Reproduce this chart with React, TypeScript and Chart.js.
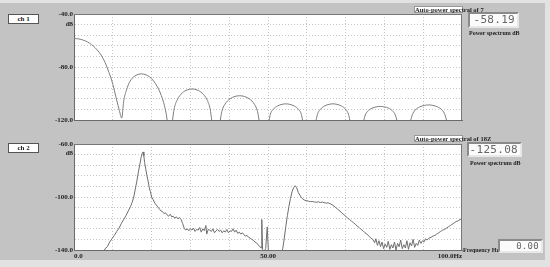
import React, { useEffect, useRef } from "react";
import { Chart, registerables } from "chart.js";
Chart.register(...registerables);

// ---- data (frequency Hz, power dB) ----
const ch1Spectrum: [number, number][] = [
  [0, -58.5], [1, -58.7], [2, -59.3], [3, -60.4], [4, -62], [5, -64.2], [6, -67.2], [7, -71], [8, -76.5],
  [9, -84], [10, -93], [11, -105], [11.7, -113], [12.3, -118.6],
  [12.8, -106], [13.5, -97.5], [14.5, -90.5], [15.5, -87.2], [16.5, -85.6], [17.4, -85.2], [18.5, -85.8],
  [19.5, -87.5], [20.5, -90.5], [21.5, -95], [22.5, -101.5], [23.3, -109], [23.8, -116], [24, -120], [24.7, -135],
  [25.4, -120], [25.8, -111.8], [26.6, -104.8], [27.9, -99.6], [29.2, -97.3], [30.45, -96.6], [31.7, -97.3],
  [33, -99.6], [34.3, -104.8], [35.1, -111.8], [35.5, -120], [36.6, -135],
  [37.7, -120], [38.1, -113.6], [38.9, -108.1], [40.2, -104.1], [41.5, -102.2], [42.7, -101.7], [43.9, -102.2],
  [45.2, -104.1], [46.5, -108.1], [47.3, -113.6], [47.7, -120], [49, -135],
  [50.3, -120], [50.6, -115.7], [51.3, -112.1], [52.45, -109.4], [53.6, -108.2], [54.6, -107.8], [55.6, -108.2],
  [56.75, -109.4], [57.9, -112.1], [58.6, -115.7], [58.9, -120], [60.6, -135],
  [62.4, -120], [62.75, -115.7], [63.45, -112.1], [64.6, -109.4], [65.7, -108.2], [66.75, -107.8], [67.8, -108.2],
  [68.9, -109.4], [70.05, -112.1], [70.75, -115.7], [71.1, -120], [73, -135],
  [74.7, -120], [75.05, -116.4], [75.7, -113.4], [76.8, -111.1], [77.9, -110.1], [78.95, -109.8], [80, -110.1],
  [81.1, -111.1], [82.2, -113.4], [82.85, -116.4], [83.2, -120], [85, -135],
  [86.8, -120], [87.2, -116], [87.9, -112.6], [89.1, -110.1], [90.3, -109], [91.4, -108.6], [92.5, -109],
  [93.7, -110.1], [94.9, -112.6], [95.6, -116], [96, -120], [98.6, -140], [100, -128],
];

const ch2Spectrum: [number, number][] = [
  [7.5, -143], [8, -139], [8.6, -137.5], [9.2, -134], [9.8, -131.5], [10.4, -129], [11, -126], [11.6, -123.5],
  [12.2, -120], [12.8, -117], [13.4, -114], [14, -110.5], [14.6, -107], [15, -104], [15.4, -100], [15.8, -94],
  [16.2, -88], [16.6, -81], [17, -75], [17.3, -70], [17.6, -67], [17.8, -66], [18, -69], [18.2, -74], [18.5, -79],
  [18.8, -84], [19.1, -88], [19.4, -93], [19.7, -96], [20, -100], [20.4, -102], [20.8, -104.5], [21.2, -106],
  [21.6, -107.5], [22, -109], [22.4, -110.5], [22.8, -111], [23.2, -112.5], [23.6, -112], [24, -113.5],
  [24.4, -114.5], [24.8, -113], [25.2, -115], [25.6, -114.5], [26, -116], [26.4, -115], [26.8, -116.5],
  [27.2, -115.5], [27.6, -117], [28, -120], [28.4, -123.5], [28.8, -125], [29.2, -124], [29.6, -125.5],
  [30, -124], [30.4, -125], [30.8, -123.5], [31.2, -126], [31.6, -124.5], [32, -125], [32.4, -123],
  [32.8, -126.5], [33.2, -124], [33.6, -125.5], [34, -121.5], [34.2, -128], [34.6, -124.5], [35, -125],
  [35.4, -126], [35.8, -124], [36.2, -127], [36.6, -125.5], [37, -124.5], [37.4, -126], [37.8, -125],
  [38.2, -127], [38.6, -125.5], [39, -126.5], [39.4, -124.5], [39.8, -127], [40.2, -125.5], [40.6, -126],
  [41, -124], [41.4, -126.5], [41.8, -125], [42.2, -127.5], [42.6, -126.5], [43, -128], [43.4, -127],
  [43.8, -128.5], [44.2, -129.5], [44.6, -129], [45, -130.5], [45.4, -131], [45.8, -132], [46.2, -132.5],
  [46.6, -134], [47, -134.5], [47.4, -136], [47.8, -137], [48.2, -138.5], [48.4, -117], [48.6, -139.5],
  [49, -141], [49.4, -139], [49.8, -122.5], [50.1, -141], [50.6, -143], [51.5, -145], [52.5, -145],
  [53.5, -142], [53.8, -139], [54.2, -131], [54.6, -122], [55, -114], [55.4, -107], [55.8, -101], [56.2, -96],
  [56.6, -93], [57, -91.5], [57.4, -93], [57.8, -96.5], [58.2, -98.5], [58.6, -100.5], [59, -101.5],
  [59.5, -102.5], [60, -102.8], [60.5, -103.2], [61, -103.5], [61.5, -103.4], [62, -103.8], [62.5, -104],
  [63, -103.6], [63.5, -104.2], [64, -103.8], [64.5, -104.3], [65, -104.6], [65.5, -104.4], [66, -105],
  [66.5, -105.8], [67, -106.8], [67.5, -108], [68, -109.5], [68.5, -110.5], [69, -112], [69.5, -113.2],
  [70, -114.5], [70.5, -115.8], [71, -117], [71.5, -118], [72, -119.5], [72.5, -120.5], [73, -122],
  [73.5, -123], [74, -124.5], [74.5, -125.5], [75, -127], [75.5, -128], [76, -129.5], [76.5, -131],
  [77, -132], [77.5, -134.5], [77.8, -131.5], [78.2, -136.5], [78.6, -133], [79, -137.5], [79.4, -134],
  [79.8, -139], [80.2, -135.5], [80.6, -138], [81, -133.5], [81.4, -139.5], [81.8, -136], [82.2, -138.5],
  [82.6, -134], [83, -140], [83.4, -135], [83.8, -137.5], [84.2, -132.5], [84.6, -139], [85, -136],
  [85.4, -138.5], [85.8, -133], [86.2, -139.5], [86.6, -134.5], [87, -137], [87.4, -132], [87.8, -138],
  [88.2, -135], [88.6, -136.5], [89, -132.5], [89.4, -135], [89.8, -133], [90.2, -134], [90.6, -131.5],
  [91, -132.5], [91.5, -131], [92, -130.5], [92.5, -129.5], [93, -129], [93.5, -128], [94, -127],
  [94.5, -126], [95, -125], [95.5, -124.5], [96, -123.5], [96.5, -122.5], [97, -121.5], [97.5, -120.5],
  [98, -119.5], [98.5, -118.5], [99, -118], [99.5, -117], [100, -116.5],
];

const ch1Range = [-120, -40];
const ch2Range = [-140, -60];
const ch1YTickLabels = ["-40.0", "-80.0", "-120.0"];
const ch2YTickLabels = ["-60.0", "-100.0", "-140.0"];
const xTickLabels = ["0.0", "50.00", "100.0Hz"];
const freqRange = [0, 100];

const ch1Title = "Auto-power spectral of 7";
const ch2Title = "Auto-power spectral of 18Z";
const ch1Readout = "-58.19";
const ch2Readout = "-125.08";
const freqReadout = "0.00";

const SERIF = "'Liberation Serif', 'DejaVu Serif', serif";
const BG = "#c3c3c3";

function makeChart(
  canvas: HTMLCanvasElement,
  pts: [number, number][],
  range: number[],
  yLabels: string[],
  showX: boolean,
  smooth: boolean,
  lineColor: string
) {
  const [ymin, ymax] = range;
  return new Chart(canvas, {
    type: "line",
    data: {
      datasets: [
        {
          data: pts.map(([x, y]) => ({ x, y })),
          borderColor: lineColor,
          borderWidth: 1,
          pointRadius: 0,
          tension: 0,
          cubicInterpolationMode: smooth ? "monotone" : "default",
          fill: false,
        },
      ],
    },
    options: {
      responsive: false,
      animation: false,
      events: [],
      layout: { padding: { top: 14, right: 88, left: 0, bottom: 0 } },
      plugins: { legend: { display: false }, tooltip: { enabled: false }, title: { display: false } },
      scales: {
        x: {
          type: "linear",
          min: freqRange[0],
          max: freqRange[1],
          grid: { color: "#c4c4c4", drawTicks: false, lineWidth: 1 },
          border: { display: true, color: "#6a6a6a", dash: [1, 2] },
          ticks: {
            display: showX,
            stepSize: 10,
            autoSkip: false,
            maxRotation: 0,
            align: "inner",
            padding: 2,
            color: "#222",
            font: { family: SERIF, size: 7, weight: "bold" },
            callback: (v: any) => {
              const i = [0, 50, 100].indexOf(Number(v));
              return i >= 0 ? xTickLabels[i] : "";
            },
          },
          afterFit: (s: any) => {
            s.height = showX ? 17 : 10;
          },
        },
        y: {
          min: ymin,
          max: ymax,
          grid: { color: "#c4c4c4", drawTicks: false, lineWidth: 1 },
          border: { display: true, color: "#6a6a6a", dash: [1, 2] },
          ticks: {
            stepSize: 8,
            autoSkip: false,
            padding: 1,
            color: "#222",
            font: { family: SERIF, size: 7, weight: "bold" },
            callback: (v: any) => {
              const n = Math.round(Number(v));
              const i = [ymax, (ymax + ymin) / 2, ymin].indexOf(n);
              return i >= 0 ? yLabels[i] : "";
            },
          },
          afterFit: (s: any) => {
            s.width = 74;
          },
        },
      },
    },
  } as any);
}

const abs = (l: number, t: number, w?: number, h?: number): React.CSSProperties => ({
  position: "absolute",
  left: l,
  top: t,
  width: w,
  height: h,
});

const small: React.CSSProperties = {
  fontFamily: SERIF,
  fontSize: 6,
  fontWeight: "bold",
  lineHeight: "7px",
  color: "#222",
  whiteSpace: "nowrap",
};

function ChBox({ top, label }: { top: number; label: string }) {
  return (
    <div
      style={{
        ...abs(8, top, 31, 10),
        boxSizing: "border-box",
        background: "#fff",
        border: "1px solid #555",
        ...small,
        fontSize: 7,
        lineHeight: "8px",
        textAlign: "center",
      }}
    >
      {label}
    </div>
  );
}

function Title({ top, text }: { top: number; text: string }) {
  return (
    <div style={{ ...abs(414, top), ...small, fontSize: 6.5 }}>
      <div
        style={{
          position: "absolute",
          left: 0,
          top: 0,
          width: 49,
          height: 7,
          background: "#fff",
          border: "1px solid #999",
          boxSizing: "border-box",
        }}
      />
      <span style={{ position: "relative", paddingLeft: 1 }}>{text}</span>
    </div>
  );
}

function Lcd({ l, t, w, h, text, size }: { l: number; t: number; w: number; h: number; text: string; size: number }) {
  return (
    <div
      style={{
        ...abs(l, t, w, h),
        boxSizing: "border-box",
        background: "#fbfbfb",
        border: "2px solid #8a8a8a",
        borderRightColor: "#e8e8e8",
        borderBottomColor: "#e8e8e8",
        fontFamily: "'DejaVu Sans Mono', monospace",
        fontSize: size,
        lineHeight: `${h - 4}px`,
        color: "#666",
        textAlign: "right",
        paddingRight: 2,
        letterSpacing: "0.3px",
        overflow: "hidden",
        whiteSpace: "nowrap",
      }}
    >
      {text}
    </div>
  );
}

export default function App() {
  const c1 = useRef<HTMLCanvasElement>(null);
  const c2 = useRef<HTMLCanvasElement>(null);
  useEffect(() => {
    const a = makeChart(c1.current!, ch1Spectrum, ch1Range, ch1YTickLabels, false, true, "#7d7d7d");
    const b = makeChart(c2.current!, ch2Spectrum, ch2Range, ch2YTickLabels, true, false, "#6e6e6e");
    return () => {
      a.destroy();
      b.destroy();
    };
  }, []);

  return (
    <div style={{ position: "fixed", left: 0, top: 0, width: 550, height: 267, background: "#e2e2e2", overflow: "hidden" }}>
      <div style={{ ...abs(0, 3, 545, 257), background: BG }} />
      {/* plot backgrounds */}
      <div style={{ ...abs(74, 14, 388, 106), background: "#fff" }} />
      <div style={{ ...abs(74, 144, 388, 106), background: "#fff" }} />
      <canvas ref={c1} width={550} height={130} style={{ ...abs(0, 0, 550, 130) }} />
      <canvas ref={c2} width={550} height={137} style={{ ...abs(0, 130, 550, 137) }} />
      {/* frames */}
      <div style={{ ...abs(74, 14, 388, 106), boxSizing: "border-box", border: "1px solid #777", borderLeft: "none", borderBottom: "none" }} />
      <div style={{ ...abs(74, 144, 388, 106), boxSizing: "border-box", border: "1px solid #777", borderLeft: "none", borderBottom: "none" }} />

      <ChBox top={14} label="ch 1" />
      <ChBox top={143} label="ch 2" />
      <div style={{ ...abs(40, 21, 33), ...small, textAlign: "right" }}>dB</div>
      <div style={{ ...abs(40, 150, 33), ...small, textAlign: "right" }}>dB</div>

      <Title top={6} text={ch1Title} />
      <Title top={135} text={ch2Title} />

      <Lcd l={468} t={12} w={51} h={16} text={ch1Readout} size={11} />
      <div style={{ ...abs(469, 30), ...small }}>Power spectrum dB</div>
      <Lcd l={467} t={142} w={55} h={15} text={ch2Readout} size={11} />
      <div style={{ ...abs(470, 160), ...small }}>Power spectrum dB</div>

      <div style={{ ...abs(463, 247), ...small }}>Frequency Hz</div>
      <Lcd l={498} t={239} w={45} h={14} text={freqReadout} size={9} />
    </div>
  );
}
